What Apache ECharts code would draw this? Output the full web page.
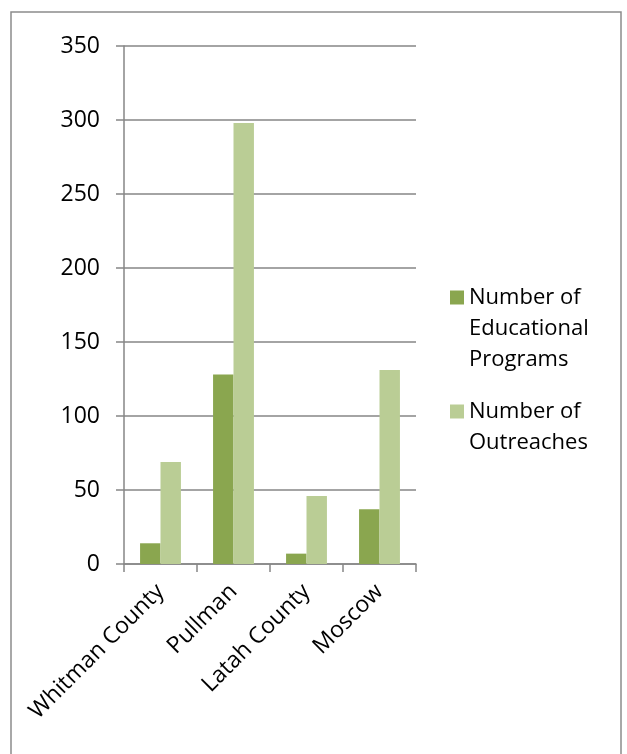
<!DOCTYPE html>
<html><head><meta charset="utf-8">
<script src="https://cdn.jsdelivr.net/npm/echarts@6/dist/echarts.min.js"></script>
<style>html,body{margin:0;padding:0;background:#fff}#c{width:627px;height:754px}</style>
</head><body><div id="c"></div>
<script>
const categories = ['Whitman County', 'Pullman', 'Latah County', 'Moscow'];
const educationalPrograms = [14, 128, 7, 37];
const outreaches = [69, 298, 46, 131];
const yTicks = [0, 50, 100, 150, 200, 250, 300, 350];
const seriesNames = ['Number of\nEducational\nPrograms', 'Number of\nOutreaches'];

const font = 'Open Sans';
const chart = echarts.init(document.getElementById('c'), null, {renderer: 'canvas'});
chart.setOption({
  animation: false,
  backgroundColor: '#fff',
  textStyle: {fontFamily: font},
  graphic: [{
    type: 'rect', silent: true, z: -1,
    shape: {x: 11, y: 12, width: 610, height: 760},
    style: {fill: 'none', stroke: '#8c8c8c', lineWidth: 1.5}
  }],
  grid: {left: 124, right: 211, top: 46, bottom: 190, containLabel: false},
  legend: {
    orient: 'vertical', left: 445, top: 215,
    itemWidth: 14, itemHeight: 14, itemGap: -10,
    icon: 'rect',
    textStyle: {fontFamily: font, fontSize: 22, color: '#000', lineHeight: 31},
    formatter: name => {
      const lines = name.split('\n');
      return '\n'.repeat(lines.length - 1) + name;
    },
    data: seriesNames
  },
  xAxis: {
    type: 'category', data: categories,
    axisLine: {lineStyle: {color: '#868686', width: 1.5}},
    axisTick: {show: true, length: 8, alignWithLabel: false, lineStyle: {color: '#868686', width: 1.5}},
    axisLabel: {rotate: 45, fontFamily: font, fontSize: 23, color: '#000', margin: 24, interval: 0}
  },
  yAxis: {
    type: 'value', min: 0, max: 350, interval: 50,
    axisLine: {show: true, lineStyle: {color: '#868686', width: 1.5}},
    axisTick: {show: true, length: 8, lineStyle: {color: '#868686', width: 1.5}},
    splitLine: {lineStyle: {color: '#868686', width: 1.5}},
    axisLabel: {fontFamily: font, fontSize: 23, color: '#000', margin: 24,
      formatter: v => yTicks.includes(v) ? String(v) : ''}
  },
  series: [
    {name: seriesNames[0], type: 'bar', data: educationalPrograms, barGap: '0%', barCategoryGap: '44%',
     itemStyle: {color: '#8aa64f'}},
    {name: seriesNames[1], type: 'bar', data: outreaches, barGap: '0%', barCategoryGap: '44%',
     itemStyle: {color: '#bacd95'}}
  ]
});
</script></body></html>
